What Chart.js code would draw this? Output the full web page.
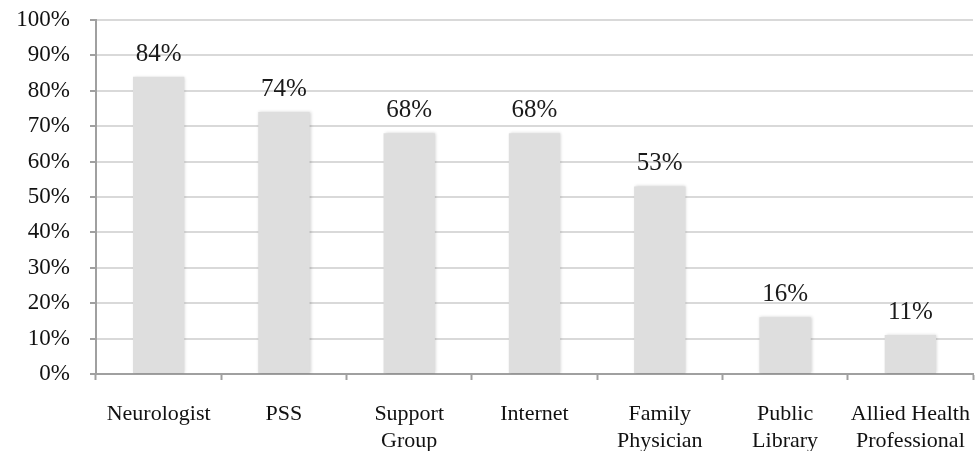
<!DOCTYPE html>
<html>
<head>
<meta charset="utf-8">
<script src="https://cdn.jsdelivr.net/npm/chart.js@4.4.1/dist/chart.umd.min.js"></script>
<style>
  html, body { margin: 0; padding: 0; background: #fff; }
  #wrap { width: 975px; height: 451px; }
</style>
</head>
<body>
<div id="wrap"><canvas id="chart" width="975" height="451"></canvas></div>
<script>
const categories = [
    'Neurologist',
    'PSS',
    ['Support', 'Group'],
    'Internet',
    ['Family', 'Physician'],
    ['Public', 'Library'],
    ['Allied Health', 'Professional']
];
const values = [84, 74, 68, 68, 53, 16, 11];
const yTicks = [0, 10, 20, 30, 40, 50, 60, 70, 80, 90, 100];

const FONT = '"Liberation Serif", "DejaVu Serif", serif';

// value labels above each bar
const valueLabels = {
    id: 'valueLabels',
    afterDatasetsDraw(chart) {
        const ctx = chart.ctx;
        const meta = chart.getDatasetMeta(0);
        ctx.save();
        ctx.font = `25px ${FONT}`;
        ctx.fillStyle = '#1a1a1a';
        ctx.textAlign = 'center';
        ctx.textBaseline = 'alphabetic';
        meta.data.forEach((bar, i) => {
            ctx.fillText(`${values[i]}%`, bar.x, bar.y - 16);
        });
        ctx.restore();
    }
};

// soft shadow on the bars
const barShadow = {
    id: 'barShadow',
    beforeDatasetDraw(chart) {
        const ctx = chart.ctx;
        ctx.save();
        ctx.shadowColor = 'rgba(0,0,0,0.18)';
        ctx.shadowBlur = 3;
        ctx.shadowOffsetX = 1;
        ctx.shadowOffsetY = 0;
    },
    afterDatasetDraw(chart) {
        chart.ctx.restore();
    }
};

new Chart(document.getElementById('chart'), {
    type: 'bar',
    data: {
        labels: categories,
        datasets: [{
            data: values,
            backgroundColor: '#dedede',
            borderWidth: 0,
            categoryPercentage: 1,
            barPercentage: 0.41
        }]
    },
    options: {
        responsive: false,
        animation: false,
        layout: { padding: { top: 20, right: 2, left: 0, bottom: 0 } },
        plugins: {
            legend: { display: false },
            tooltip: { enabled: false }
        },
        scales: {
            x: {
                offset: true,
                afterFit(scale) {
                    scale.height = 77;
                    scale.paddingLeft = 0;
                    scale.paddingRight = 0;
                },
                grid: {
                    drawOnChartArea: false,
                    drawTicks: true,
                    tickLength: 6,
                    tickWidth: 2,
                    tickColor: '#a0a0a0'
                },
                border: { color: '#a0a0a0', width: 2 },
                ticks: {
                    color: '#111',
                    padding: 21,
                    maxRotation: 0,
                    autoSkip: false,
                    font: { family: FONT, size: 22, lineHeight: 1.22 }
                }
            },
            y: {
                min: 0,
                max: 100,
                afterFit(scale) {
                    scale.width = 96;
                    scale.paddingTop = 0;
                    scale.paddingBottom = 0;
                },
                afterBuildTicks(scale) {
                    scale.ticks = yTicks.map((v) => ({ value: v }));
                },
                grid: {
                    color: '#d9d9d9',
                    lineWidth: 2,
                    drawTicks: true,
                    tickLength: 6,
                    tickWidth: 2,
                    tickColor: '#a0a0a0'
                },
                border: { color: '#a0a0a0', width: 2 },
                ticks: {
                    color: '#111',
                    padding: 20,
                    callback: (v) => `${v}%`,
                    font: { family: FONT, size: 23 }
                }
            }
        }
    },
    plugins: [barShadow, valueLabels]
});
</script>
</body>
</html>
